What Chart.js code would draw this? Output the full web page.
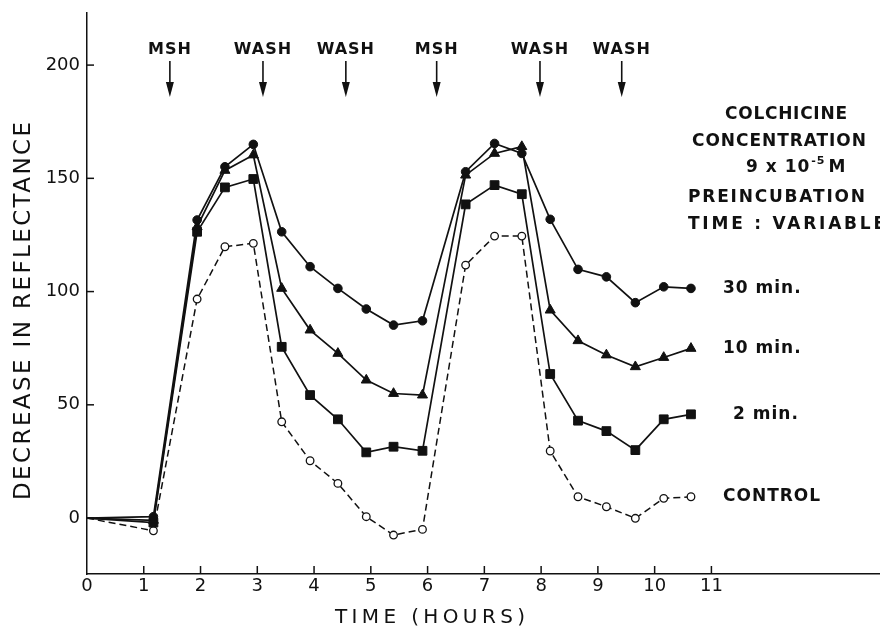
<!DOCTYPE html>
<html><head><meta charset="utf-8">
<script src="https://cdn.jsdelivr.net/npm/chart.js@4.4.1/dist/chart.umd.min.js"></script>
<style>html,body{margin:0;padding:0;background:#fff;} canvas{display:block;}</style>
</head><body>
<canvas id="c" width="880" height="633"></canvas>
<script>
// ---- data ----
const hours   = [0, 1.17, 1.94, 2.43, 2.93, 3.43, 3.93, 4.42, 4.92, 5.40, 5.91, 6.67, 7.18, 7.66, 8.16, 8.65, 9.15, 9.66, 10.16, 10.64];
const min30   = [0, 0.6, 131.6, 155.1, 165.0, 126.4, 111.0, 101.4, 92.3, 85.2, 87.1, 152.9, 165.4, 161.0, 131.9, 109.8, 106.5, 95.1, 102.1, 101.4];
const min10   = [0, -1.0, 128.6, 153.5, 160.3, 101.4, 83.0, 72.7, 60.9, 55.0, 54.3, 151.4, 161.0, 164.0, 91.8, 78.3, 72.0, 66.8, 70.9, 74.9];
const min2    = [0, -2.0, 126.4, 146.0, 149.7, 75.6, 54.3, 43.6, 29.0, 31.5, 29.7, 138.5, 147.0, 143.0, 63.6, 43.0, 38.4, 30.0, 43.6, 45.8];
const control = [0, -5.6, 96.7, 119.8, 121.3, 42.5, 25.3, 15.3, 0.6, -7.5, -5.0, 111.7, 124.5, 124.5, 29.6, 9.4, 5.0, -0.1, 8.7, 9.4];
const xTickValues = [0,1,2,3,4,5,6,7,8,9,10,11];
const yTickValues = [0,50,100,150,200];
const eventLabels = ['MSH','WASH','WASH','MSH','WASH','WASH'];
const eventHours  = [1.46, 3.10, 4.56, 6.16, 7.98, 9.42];
const seriesNames = ['30 min.','10 min.','2 min.','CONTROL'];
const yTitle = 'DECREASE IN REFLECTANCE';
const xTitle = 'TIME (HOURS)';
const infoLines = ['COLCHICINE','CONCENTRATION','PREINCUBATION','TIME : VARIABLE'];

const INK = '#111';
function pts(vals){ return hours.map((h,i)=>({x:h,y:vals[i]})); }
function radii(r){ return hours.map((h,i)=> i===0 ? 0 : r); }

function spacedText(ctx, text, left, cy, width, centered){
  ctx.letterSpacing = '0px';
  const w = ctx.measureText(text).width;
  const sp = Math.max(0, (width - w) / (text.length - 1));
  ctx.letterSpacing = sp + 'px';
  ctx.textAlign = 'left';
  const w2 = ctx.measureText(text).width - sp;
  ctx.fillText(text, centered ? left - w2/2 : left, cy);
  ctx.letterSpacing = '0px';
}

const decor = {
  id: 'decor',
  afterDraw(chart){
    const ctx = chart.ctx, xs = chart.scales.x, ys = chart.scales.y, ca = chart.chartArea;
    ctx.save();
    ctx.strokeStyle = INK; ctx.fillStyle = INK; ctx.lineWidth = 1.5;
    // inward tick marks
    xTickValues.forEach(v=>{ if(v===0) return; const px = xs.getPixelForValue(v);
      ctx.beginPath(); ctx.moveTo(px, ca.bottom); ctx.lineTo(px, ca.bottom-8); ctx.stroke(); });
    yTickValues.forEach(v=>{ const py = ys.getPixelForValue(v);
      ctx.beginPath(); ctx.moveTo(ca.left, py); ctx.lineTo(ca.left+7, py); ctx.stroke(); });
    // axis titles
    ctx.font = '23px "DejaVu Sans"'; ctx.textBaseline = 'middle';
    ctx.save(); ctx.translate(24, 311); ctx.rotate(-Math.PI/2);
    spacedText(ctx, yTitle, 0, 0, 378, true); ctx.restore();
    ctx.font = '20px "DejaVu Sans"';
    spacedText(ctx, xTitle, 430, 618, 190, true);
    // event arrows
    ctx.font = 'bold 16px "DejaVu Sans"'; ctx.textBaseline = 'middle';
    eventLabels.forEach((lab,i)=>{
      const px = xs.getPixelForValue(eventHours[i]);
      ctx.letterSpacing = '1px'; ctx.textAlign = 'center';
      ctx.fillText(lab, px, 50); ctx.letterSpacing = '0px';
      ctx.lineWidth = 1.6;
      ctx.beginPath(); ctx.moveTo(px, 61); ctx.lineTo(px, 88); ctx.stroke();
      ctx.beginPath(); ctx.moveTo(px-4, 82); ctx.lineTo(px+4, 82); ctx.lineTo(px, 97); ctx.closePath(); ctx.fill();
    });
    // info block
    ctx.font = 'bold 17px "DejaVu Sans"';
    spacedText(ctx, infoLines[0], 786, 115, 122, true);
    spacedText(ctx, infoLines[1], 692, 142, 174, false);
    spacedText(ctx, infoLines[2], 688, 198, 177, false);
    spacedText(ctx, infoLines[3], 688, 225, 197, false);
    // 9 x 10^-5 M
    ctx.letterSpacing = '1px'; ctx.textAlign = 'left';
    let x0 = 746;
    ctx.fillText('9 x 10', x0, 168); x0 += ctx.measureText('9 x 10').width + 1;
    ctx.font = 'bold 11px "DejaVu Sans"';
    ctx.fillText('-5', x0, 161); x0 += ctx.measureText('-5').width + 3;
    ctx.font = 'bold 17px "DejaVu Sans"';
    ctx.fillText('M', x0, 168);
    // series labels next to last points
    const lasts = [min30, min10, min2, control].map(a=>a[a.length-1]);
    seriesNames.forEach((n,i)=>{
      const py = ys.getPixelForValue(lasts[i]);
      ctx.fillText(n, i===2 ? 733 : 723, py);
    });
    ctx.letterSpacing = '0px';
    ctx.restore();
  }
};

function ds(label, vals, style, r, opts){
  return Object.assign({
    label, data: pts(vals), borderColor: INK, borderWidth: 1.7, tension: 0,
    pointStyle: style, pointRadius: radii(r), pointHoverRadius: radii(r),
    pointBackgroundColor: INK, pointBorderColor: INK, pointBorderWidth: 1,
    fill: false
  }, opts||{});
}

function noPad(s){ s.paddingLeft = 0; s.paddingRight = 0; s.paddingTop = 0; s.paddingBottom = 0; }

new Chart(document.getElementById('c'), {
  type: 'line',
  data: { datasets: [
    ds('30 min.', min30, 'circle', 4.3, {order: 1}),
    ds('10 min.', min10, 'triangle', 5.8, {order: 2}),
    ds('2 min.', min2, 'rect', 6.2, {order: 3}),
    ds('CONTROL', control, 'circle', 3.8, {order: 4, borderDash: [7,4], pointBackgroundColor: '#fff', pointBorderWidth: 1.3, borderWidth: 1.5})
  ]},
  options: {
    responsive: false, animation: false, devicePixelRatio: 1,
    layout: { autoPadding: false, padding: { top: 13, right: 0, left: 0, bottom: 0 } },
    plugins: { legend: { display: false }, tooltip: { enabled: false } },
    scales: {
      x: { type: 'linear', min: 0, max: 13.97,
        grid: { display: false, drawTicks: false },
        border: { display: true, color: INK, width: 1.5 },
        ticks: { font: { family: 'DejaVu Sans', size: 18 }, color: INK, padding: 2, maxRotation: 0, autoSkip: false },
        afterBuildTicks: s => { s.ticks = xTickValues.map(v => ({ value: v })); },
        afterFit: s => { s.height = 59; noPad(s); } },
      y: { type: 'linear', min: -24.7, max: 223,
        grid: { display: false, drawTicks: false },
        border: { display: true, color: INK, width: 1.5 },
        ticks: { font: { family: 'DejaVu Sans', size: 18 }, color: INK, padding: 7, autoSkip: false },
        afterBuildTicks: s => { s.ticks = yTickValues.map(v => ({ value: v })); },
        afterFit: s => { s.width = 87; noPad(s); } }
    }
  },
  plugins: [decor]
});
</script>
</body></html>
